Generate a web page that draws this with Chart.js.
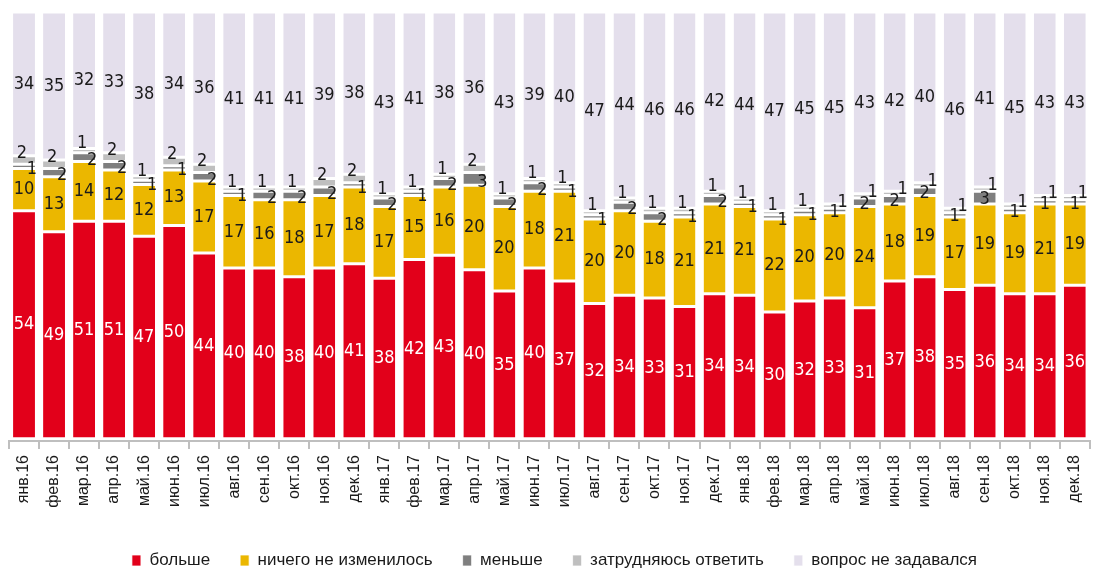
<!DOCTYPE html>
<html>
<head>
<meta charset="utf-8">
<script src="https://cdn.jsdelivr.net/npm/chart.js@4/dist/chart.umd.min.js"></script>
<style>
  html, body { margin: 0; padding: 0; background: #fff; overflow: hidden; }
  #wrap { width: 1100px; height: 579px; position: relative; }
</style>
</head>
<body>
<div id="wrap"><canvas id="chart"></canvas></div>
<script>
// months Jan 2016 - Dec 2018
const months = ['янв.16','фев.16','мар.16','апр.16','май.16','июн.16','июл.16','авг.16','сен.16','окт.16','ноя.16','дек.16',
                'янв.17','фев.17','мар.17','апр.17','май.17','июн.17','июл.17','авг.17','сен.17','окт.17','ноя.17','дек.17',
                'янв.18','фев.18','мар.18','апр.18','май.18','июн.18','июл.18','авг.18','сен.18','окт.18','ноя.18','дек.18'];

const bolshe    = [54,49,51,51,47,50,44,40,40,38,40,41, 38,42,43,40,35,40,37,32,34,33,31,34, 34,30,32,33,31,37,38,35,36,34,34,36];
const nichego   = [10,13,14,12,12,13,17,17,16,18,17,18, 17,15,16,20,20,18,21,20,20,18,21,21, 21,22,20,20,24,18,19,17,19,19,21,19];
const menshe    = [1,2,2,2,1,1,2,1,2,2,2,1, 2,1,2,3,2,2,1,1,2,2,1,2, 1,1,1,1,2,2,2,1,3,1,1,1];
const zatrud    = [2,2,1,2,1,2,2,1,1,1,2,2, 1,1,1,2,1,1,1,1,1,1,1,1, 1,1,1,1,1,1,1,1,1,1,1,1];
const neZadaval = [34,35,32,33,38,34,36,41,41,41,39,38, 43,41,38,36,43,39,40,47,44,46,46,42, 44,47,45,45,43,42,40,46,41,45,43,43];

const seriesNames = ['больше', 'ничего не изменилось', 'меньше', 'затрудняюсь ответить', 'вопрос не задавался'];
const seriesColors = ['#E2001A', '#EBB700', '#7F7F7F', '#BFBFBF', '#E4DFEC'];

const valueFont = '18px "Liberation Sans Narrow", "DejaVu Sans Condensed", sans-serif';
const textFont = '"Liberation Sans", Arial, sans-serif';

const allSeries = [bolshe, nichego, menshe, zatrud, neZadaval];
// 100% stacked: each month's bar is scaled to its own total (rounded values don't always add to 100)
const totals = months.map((m, i) => allSeries.reduce((s, arr) => s + arr[i], 0));

// value labels inside / next to the segments (shows the original rounded numbers)
const valueLabels = {
  id: 'valueLabels',
  afterDatasetsDraw(chart) {
    const ctx = chart.ctx;
    ctx.save();
    ctx.font = valueFont;
    ctx.textAlign = 'center';
    ctx.textBaseline = 'middle';
    chart.data.datasets.forEach((ds, di) => {
      const meta = chart.getDatasetMeta(di);
      meta.data.forEach((bar, i) => {
        let x = bar.x;
        let y = (bar.y + bar.base) / 2;
        // small segments: labels pushed apart so they don't overlap
        if (di === 2) {
          if (i < 27) { x += 8; y += 3; } else { y += 2; }
        } else if (di === 3) {
          if (i < 27) { x -= 2; y -= 7; } else { x += 8; y -= 4; }
        }
        ctx.fillStyle = di === 0 ? '#ffffff' : '#1a1a1a';
        ctx.fillText(String(allSeries[di][i]), x, y);
      });
    });
    ctx.restore();
  }
};

new Chart(document.getElementById('chart'), {
  type: 'bar',
  data: {
    labels: months,
    datasets: allSeries.map((vals, k) => ({
      label: seriesNames[k],
      data: vals.map((v, i) => v / totals[i] * 100),
      backgroundColor: seriesColors[k],
      borderColor: '#ffffff',
      borderWidth: { top: 1.5, bottom: 1.5, left: 0, right: 0 },
      borderSkipped: false,
      categoryPercentage: 1,
      barPercentage: 0.73
    }))
  },
  options: {
    responsive: true,
    maintainAspectRatio: false,
    animation: false,
    events: [],
    layout: { padding: { top: 12, left: 9, right: 0, bottom: 0 } },
    plugins: {
      tooltip: { enabled: false },
      legend: {
        position: 'bottom',
        labels: {
          boxWidth: 9,
          boxHeight: 11,
          padding: 30,
          color: '#1a1a1a',
          font: { family: textFont, size: 17 }
        }
      }
    },
    scales: {
      x: {
        stacked: true,
        afterFit: (axis) => { axis.height = 81; },
        grid: {
          display: true,
          drawOnChartArea: false,
          drawTicks: true,
          tickLength: 8,
          color: '#BFBFBF',
          lineWidth: 2,
          offset: true
        },
        border: { display: true, color: '#BFBFBF', width: 2 },
        ticks: {
          autoSkip: false,
          maxRotation: 90,
          minRotation: 90,
          padding: 6,
          color: '#1a1a1a',
          font: { family: textFont, size: 16 }
        }
      },
      y: {
        stacked: true,
        display: false,
        min: -0.5,
        max: 100
      }
    }
  },
  plugins: [valueLabels]
});
</script>
</body>
</html>
